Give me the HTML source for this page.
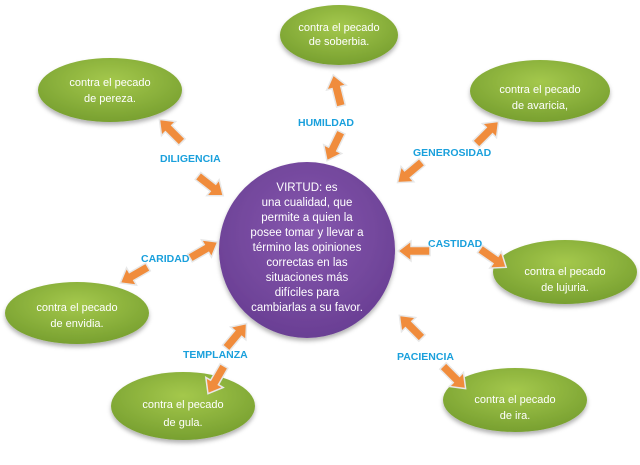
<!DOCTYPE html>
<html><head><meta charset="utf-8"><style>
body{margin:0;background:#fff;}
svg{display:block;font-family:"Liberation Sans",sans-serif;}
.e{fill:url(#g);filter:url(#sh);}
.t{fill:#fff;font-size:11px;text-anchor:middle;}
.l{fill:#1aa0dc;font-size:10.5px;font-weight:bold;}
.a{fill:#f08c3c;stroke:#e8e8e8;stroke-width:1.5;}
</style></head><body>
<svg width="640" height="465" viewBox="0 0 640 465">
<defs>
<radialGradient id="g" cx="50%" cy="35%" r="65%"><stop offset="0" stop-color="#a4c84c"/><stop offset="1" stop-color="#78a030"/></radialGradient>
<radialGradient id="p" cx="50%" cy="40%" r="60%"><stop offset="0" stop-color="#8658ae"/><stop offset="1" stop-color="#6a3f94"/></radialGradient>
<filter id="sh" x="-10%" y="-10%" width="120%" height="130%"><feDropShadow dx="0" dy="3" stdDeviation="2" flood-color="#000" flood-opacity="0.3"/></filter>
<polygon id="ar" points="0,-4.5 19,-4.5 19,-10 32,0 19,10 19,4.5 0,4.5"/>
</defs>
<ellipse class="e" cx="339" cy="35" rx="59" ry="30"/>
<ellipse class="e" cx="110" cy="90" rx="72" ry="32"/>
<ellipse class="e" cx="540" cy="91" rx="70" ry="31"/>
<ellipse class="e" cx="565" cy="272" rx="72" ry="32"/>
<ellipse class="e" cx="77" cy="313" rx="72" ry="31"/>
<ellipse class="e" cx="183" cy="406" rx="72" ry="34"/>
<ellipse class="e" cx="515" cy="400" rx="72" ry="32"/>
<circle cx="307" cy="250" r="88" fill="url(#p)" filter="url(#sh)"/>
<text class="t"><tspan x="339" y="31">contra el pecado</tspan><tspan x="339" y="45">de soberbia.</tspan></text>
<text class="t"><tspan x="110" y="86">contra el pecado</tspan><tspan x="110" y="102">de pereza.</tspan></text>
<text class="t"><tspan x="540" y="93">contra el pecado</tspan><tspan x="540" y="109">de avaricia,</tspan></text>
<text class="t"><tspan x="565" y="275">contra el pecado</tspan><tspan x="565" y="291">de lujuria.</tspan></text>
<text class="t"><tspan x="77" y="311">contra el pecado</tspan><tspan x="77" y="327">de envidia.</tspan></text>
<text class="t"><tspan x="183" y="408">contra el pecado</tspan><tspan x="183" y="426">de gula.</tspan></text>
<text class="t"><tspan x="515" y="403">contra el pecado</tspan><tspan x="515" y="419">de ira.</tspan></text>
<text class="t" style="font-size:11.5px"><tspan x="307" y="191">VIRTUD: es</tspan><tspan x="307" y="206">una cualidad, que</tspan><tspan x="307" y="221">permite a quien la</tspan><tspan x="307" y="236">posee tomar y llevar a</tspan><tspan x="307" y="251">término las opiniones</tspan><tspan x="307" y="266">correctas en las</tspan><tspan x="307" y="281">situaciones más</tspan><tspan x="307" y="296">difíciles para</tspan><tspan x="307" y="311">cambiarlas a su favor.</tspan></text>
<text class="l" x="298" y="126">HUMILDAD</text>
<text class="l" x="160" y="162">DILIGENCIA</text>
<text class="l" x="413" y="156">GENEROSIDAD</text>
<text class="l" x="428" y="247">CASTIDAD</text>
<text class="l" x="141" y="262">CARIDAD</text>
<text class="l" x="183" y="358">TEMPLANZA</text>
<text class="l" x="397" y="360">PACIENCIA</text>
<use href="#ar" class="a" transform="translate(341,106) rotate(-104)"/>
<use href="#ar" class="a" transform="translate(341,132) rotate(116)"/>
<use href="#ar" class="a" transform="translate(182,142) rotate(-135)"/>
<use href="#ar" class="a" transform="translate(198,176) rotate(38)"/>
<use href="#ar" class="a" transform="translate(476,144) rotate(-45)"/>
<use href="#ar" class="a" transform="translate(422,162) rotate(140)"/>
<use href="#ar" class="a" transform="translate(430,251) rotate(180)"/>
<use href="#ar" class="a" transform="translate(480,249) rotate(35)"/>
<use href="#ar" class="a" transform="translate(190,258) rotate(-30)"/>
<use href="#ar" class="a" transform="translate(148,267) rotate(150)"/>
<use href="#ar" class="a" transform="translate(226,348) rotate(-50)"/>
<use href="#ar" class="a" transform="translate(224,366) rotate(120)"/>
<use href="#ar" class="a" transform="translate(422,338) rotate(-135)"/>
<use href="#ar" class="a" transform="translate(443,366) rotate(45)"/>
</svg>
</body></html>
